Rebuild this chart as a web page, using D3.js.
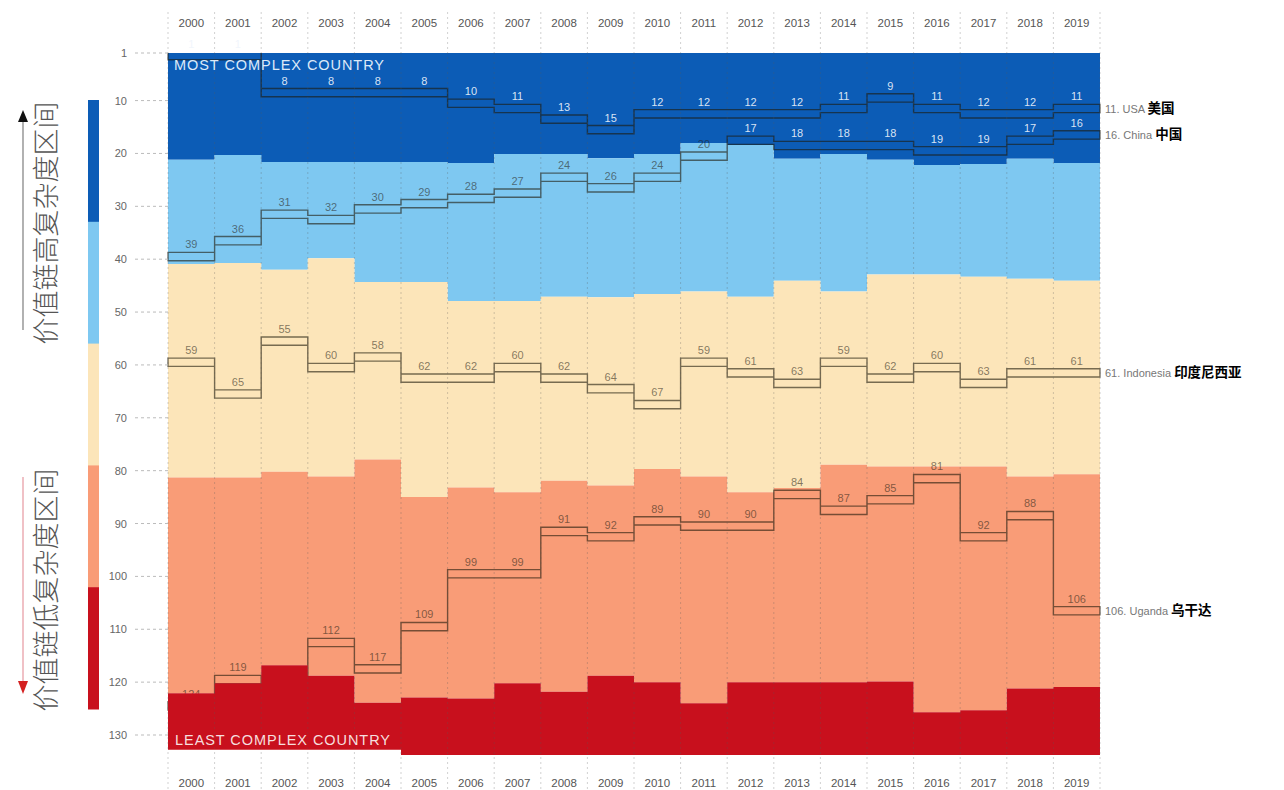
<!DOCTYPE html>
<html>
  <head>
    <meta charset="utf-8">
    <script src="https://cdn.jsdelivr.net/npm/d3@7"></script>
    <style>
        body { margin: 0; background: #fff; }
        text { font-family: "Liberation Sans", Arial, sans-serif; }
        .zh { font-family: "Noto Sans CJK SC", sans-serif; }
    </style>
  </head>

  <body>
    <div id="my_dataviz"></div>
  </body>

  <script>

    // ---- data ----
    let years = [2000, 2001, 2002, 2003, 2004, 2005, 2006, 2007, 2008, 2009,
                 2010, 2011, 2012, 2013, 2014, 2015, 2016, 2017, 2018, 2019];

    let yTicks = [1, 10, 20, 30, 40, 50, 60, 70, 80, 90, 100, 110, 120, 130];

    // rank position of each colour band's lower edge, per year
    let bound1 = [21.2, 20.3, 21.6, 21.6, 21.6, 21.6, 21.8, 20.1, 20.1, 20.9, 20.1, 18.0, 18.4, 21.0, 20.1, 21.2, 22.2, 22.0, 21.0, 21.8];
    let bound2 = [40.9, 40.7, 42.0, 39.8, 44.3, 44.3, 47.9, 47.9, 47.1, 47.2, 46.6, 46.1, 47.1, 44.1, 46.1, 42.9, 42.9, 43.3, 43.7, 44.1];
    let bound3 = [81.3, 81.3, 80.2, 81.1, 77.9, 85.0, 83.2, 84.1, 81.9, 82.8, 79.7, 81.1, 84.1, 83.3, 78.9, 79.2, 79.2, 79.2, 81.1, 80.7];
    let bound4 = [122.1, 120.2, 116.8, 118.8, 123.9, 122.9, 123.1, 120.2, 121.8, 118.8, 120.0, 124.0, 120.0, 120.0, 120.0, 119.9, 125.7, 125.3, 121.2, 120.9];
    let bottom = [132.8, 132.8, 132.8, 132.8, 132.8, 133.8, 133.8, 133.8, 133.8, 133.8, 133.8, 133.8, 133.8, 133.8, 133.8, 133.8, 133.8, 133.8, 133.8, 133.8];

    let usa       = [1, 1, 8, 8, 8, 8, 10, 11, 13, 15, 12, 12, 12, 12, 11, 9, 11, 12, 12, 11];
    let china     = [39, 36, 31, 32, 30, 29, 28, 27, 24, 26, 24, 20, 17, 18, 18, 18, 19, 19, 17, 16];
    let indonesia = [59, 65, 55, 60, 58, 62, 62, 60, 62, 64, 67, 59, 61, 63, 59, 62, 60, 63, 61, 61];
    let uganda    = [124, 119, 121, 112, 117, 109, 99, 99, 91, 92, 89, 90, 90, 84, 87, 85, 81, 92, 88, 106];

    let countryNames = ["USA", "China", "Indonesia", "Uganda"];
    let countryZh    = ["美国", "中国", "印度尼西亚", "乌干达"];

    let bandColors = ["#0c5cb6", "#7ec8f1", "#fce5b9", "#f99c77", "#c8101d"];

    // ---- layout ----
    let W = 1284, H = 790;
    let left = 168, right = 1100;

    let svg = d3.select("#my_dataviz")
                .append("svg")
                    .attr("width", W)
                    .attr("height", H);

    let x = d3.scaleBand()
              .domain(years)
              .range([left, right])
              .padding(0);

    let y = d3.scaleLinear()
              .domain([1, 130])
              .range([53, 735]);

    let xl = function(i) { return x(years[i]); };
    let xr = function(i) { return x(years[i]) + x.bandwidth(); };

    // points with an extra one at the right edge so steps close the last column
    let idx = d3.range(years.length + 1);
    let xs = function(i) { return i < years.length ? xl(i) : right; };
    let at = function(arr, i) { return arr[Math.min(i, arr.length - 1)]; };

    let edges = [years.map(function() { return 1; }), bound1, bound2, bound3, bound4, bottom];

    let areaFor = function(k) {
        return d3.area()
                 .curve(d3.curveStepAfter)
                 .x(function(i) { return xs(i); })
                 .y0(function(i) { return y(at(edges[k], i)); })
                 .y1(function(i) { return y(at(edges[k + 1], i)); });
    };

    // keep the country lines inside the plot
    svg.append("clipPath")
       .attr("id", "plotClip")
       .append("rect")
         .attr("x", left - 1)
         .attr("y", y(1))
         .attr("width", right - left + 2)
         .attr("height", y(134) - y(1));

    // colour bands, dark red drawn later so it sits on top
    for (let k = 0; k < 4; k++) {
        svg.append("path")
           .datum(idx)
           .attr("fill", bandColors[k])
           .attr("d", areaFor(k));
    }

    // country step bands
    let countries = [usa, china, indonesia, uganda];

    let lineGen = d3.line().curve(d3.curveLinearClosed);

    countries.forEach(function(ranks, c) {
        let pts = [];
        ranks.forEach(function(r, i) {
            pts.push([xl(i), y(r) - 1.5]);
            pts.push([xr(i), y(r) - 1.5]);
        });
        for (let i = ranks.length - 1; i >= 0; i--) {
            pts.push([xr(i), y(ranks[i] + 1) + 1.5]);
            pts.push([xl(i), y(ranks[i] + 1) + 1.5]);
        }
        svg.append("path")
           .attr("d", lineGen(pts))
           .attr("clip-path", "url(#plotClip)")
           .attr("fill", "none")
           .attr("stroke", "rgba(30,25,10,0.6)")
           .attr("stroke-width", 1.4);

        svg.append("g")
           .selectAll("text")
           .data(ranks)
           .enter()
           .append("text")
             .attr("x", function(d, i) { return xl(i) + x.bandwidth() / 2; })
             .attr("y", function(d) { return y(d) - 5.5; })
             .attr("text-anchor", "middle")
             .attr("font-size", 11)
             .attr("fill", function(d, i) {
                 // white on the dark blue band (and on the page above it)
                 return d < bound1[i] ? "rgba(240,245,252,0.9)" : "rgba(40,35,20,0.58)";
             })
             .text(function(d) { return d; });
    });

    // dark red band on top
    svg.append("path")
       .datum(idx)
       .attr("fill", bandColors[4])
       .attr("d", areaFor(4));

    // vertical dashed grid at column edges
    let gridX = years.map(function(d) { return x(d); }).concat([right]);

    svg.append("g")
       .selectAll("line")
       .data(gridX)
       .enter()
       .append("line")
         .attr("x1", function(d) { return d; })
         .attr("x2", function(d) { return d; })
         .attr("y1", 12)
         .attr("y2", 790)
         .attr("stroke", "rgba(90,90,90,0.28)")
         .attr("stroke-width", 1)
         .attr("stroke-dasharray", "2,3");

    // year labels, top and bottom
    [27, 787].forEach(function(ty) {
        svg.append("g")
           .selectAll("text")
           .data(years)
           .enter()
           .append("text")
             .attr("x", function(d) { return x(d) + x.bandwidth() / 2; })
             .attr("y", ty)
             .attr("text-anchor", "middle")
             .attr("font-size", 11.5)
             .attr("fill", "#555")
             .text(function(d) { return d; });
    });

    // y axis ticks
    let yAxis = svg.append("g");
    yAxis.selectAll("line")
         .data(yTicks)
         .enter()
         .append("line")
           .attr("x1", 135)
           .attr("x2", left)
           .attr("y1", function(d) { return y(d); })
           .attr("y2", function(d) { return y(d); })
           .attr("stroke", "#bbb")
           .attr("stroke-dasharray", "3,3");
    yAxis.selectAll("text")
         .data(yTicks)
         .enter()
         .append("text")
           .attr("x", 127)
           .attr("y", function(d) { return y(d) + 4; })
           .attr("text-anchor", "end")
           .attr("font-size", 11)
           .attr("fill", "#666")
           .text(function(d) { return d; });

    // band captions
    svg.append("text")
       .attr("x", 174).attr("y", 70)
       .attr("font-size", 14.5)
       .attr("textLength", 210)
       .attr("fill", "#dce9f8")
       .text("MOST COMPLEX COUNTRY");

    svg.append("text")
       .attr("x", 175).attr("y", 745)
       .attr("font-size", 14.5)
       .attr("textLength", 215)
       .attr("fill", "#f6dede")
       .text("LEAST COMPLEX COUNTRY");

    // end labels on the right
    countries.forEach(function(ranks, c) {
        let r = ranks[ranks.length - 1];
        let t = svg.append("text")
                   .attr("x", right + 5)
                   .attr("y", y(r + 0.5) + 4)
                   .attr("font-size", 11)
                   .attr("fill", "#777");
        t.append("tspan").text(r + ". " + countryNames[c] + " ");
        t.append("tspan")
         .attr("class", "zh")
         .attr("font-size", 13.5)
         .attr("font-weight", "bold")
         .attr("fill", "#000")
         .text(countryZh[c]);
    });

    // left colour bar
    let barTop = 100, barBottom = 709;
    let seg = (barBottom - barTop) / bandColors.length;
    svg.append("g")
       .selectAll("rect")
       .data(bandColors)
       .enter()
       .append("rect")
         .attr("x", 88)
         .attr("width", 11)
         .attr("y", function(d, i) { return barTop + i * seg; })
         .attr("height", seg + 0.5)
         .attr("fill", function(d) { return d; });

    // left titles with arrows
    svg.append("line")
       .attr("x1", 23).attr("x2", 23)
       .attr("y1", 330).attr("y2", 120)
       .attr("stroke", "#888").attr("stroke-width", 1.3);
    svg.append("path")
       .attr("d", "M23,110 L18,122 L28,122 Z")
       .attr("fill", "#111");

    svg.append("line")
       .attr("x1", 23).attr("x2", 23)
       .attr("y1", 477).attr("y2", 682)
       .attr("stroke", "#e8a0a8").attr("stroke-width", 1.3);
    svg.append("path")
       .attr("d", "M23,694 L18,681 L28,681 Z")
       .attr("fill", "#d42020");

    [["价值链高复杂度区间", 223], ["价值链低复杂度区间", 590]].forEach(function(d) {
        svg.append("text")
           .attr("class", "zh")
           .attr("transform", "translate(56," + d[1] + ") rotate(-90)")
           .attr("text-anchor", "middle")
           .attr("font-size", 27)
           .attr("font-weight", 300)
           .attr("fill", "#555")
           .text(d[0]);
    });

  </script>

</html>
